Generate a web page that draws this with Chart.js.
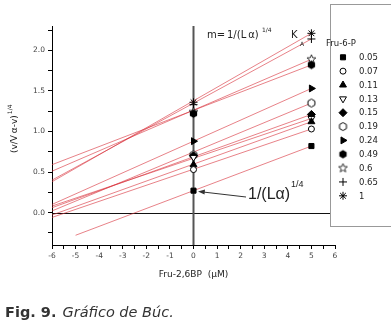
<!DOCTYPE html>
<html><head><meta charset="utf-8">
<script src="https://cdn.jsdelivr.net/npm/chart.js@4.4.1/dist/chart.umd.min.js"></script>
<style>
html,body{margin:0;padding:0;background:#fff;}
canvas{display:block;}
</style></head><body>
<canvas id="c" width="391" height="323"></canvas>
<script>
// ---- data ----
const fru6pLabels = ['0.05','0.07','0.11','0.13','0.15','0.19','0.24','0.49','0.6','0.65','1'];
const fru26bpPoints = [0, 5];
const valuesAt0 = [0.27,0.53,0.59,0.68,0.70,0.71,0.88,1.22,1.24,1.33,1.36];
const valuesAt5 = [0.82,1.03,1.12,1.16,1.21,1.35,1.53,1.82,1.89,2.14,2.21];
const fitStartX = [-5,-6,-6,-6,-6,-6,-6,-6,-6,-6,-6];
const fitStartY = [-0.28,-0.06,-0.03,0.08,0.06,0.02,0.10,0.59,0.51,0.40,0.38];
const fitEndX = 5;
const xTickLabels = ['-6','-5','-4','-3','-2','-1','0','1','2','3','4','5','6'];
const yTickLabels = ['0.0','0.5','1.0','1.5','2.0'];

// ---- custom marker glyphs ----
function glyph(draw){
  const c=document.createElement('canvas'); c.width=11; c.height=11;
  const g=c.getContext('2d'); g.translate(5.5,5.5); g.lineWidth=1; g.strokeStyle='#000'; g.fillStyle='#000';
  draw(g); return c;
}
function hexPath(g,r){ g.beginPath(); for(let k=0;k<6;k++){const a=-Math.PI/2+k*Math.PI/3; const px=r*Math.cos(a), py=r*Math.sin(a); k?g.lineTo(px,py):g.moveTo(px,py);} g.closePath(); }
const hexOpen = glyph(g=>{hexPath(g,4); g.fillStyle='#fff'; g.fill(); g.stroke();});
const hexFilled = glyph(g=>{hexPath(g,4.2); g.fill();});
const starOpen = glyph(g=>{g.beginPath(); for(let k=0;k<10;k++){const r=k%2?2:4.6; const a=-Math.PI/2+k*Math.PI/5; const px=r*Math.cos(a), py=r*Math.sin(a); k?g.lineTo(px,py):g.moveTo(px,py);} g.closePath(); g.fillStyle='#fff'; g.fill(); g.lineWidth=0.8; g.stroke();});

const markerStyles = [
  {s:'rect', r:3.6, fill:'#000', rot:0},
  {s:'circle', r:3, fill:'#fff', rot:0},
  {s:'triangle', r:4, fill:'#000', rot:0},
  {s:'triangle', r:4, fill:'#fff', rot:180},
  {s:'rectRot', r:4, fill:'#000', rot:0},
  {s:hexOpen, r:4, fill:'#fff', rot:0},
  {s:'triangle', r:4, fill:'#000', rot:90},
  {s:hexFilled, r:4, fill:'#000', rot:0},
  {s:starOpen, r:4, fill:'#fff', rot:0},
  {s:'cross', r:4, fill:'#000', rot:0},
  {s:'star', r:4, fill:'#000', rot:0}
];

const datasets = [];
fru6pLabels.forEach((lab,i)=>{
  datasets.push({
    label:'fit '+lab, type:'line', order:2,
    data:[{x:fitStartX[i], y:fitStartY[i]},{x:fitEndX, y:valuesAt5[i]}],
    borderColor:'rgba(215,45,55,0.75)', borderWidth:0.8, pointRadius:0, showLine:true, fill:false
  });
});
fru6pLabels.forEach((lab,i)=>{
  const m = markerStyles[i];
  datasets.push({
    label:lab, type:'scatter', order:1,
    data: fru26bpPoints.map((xv,k)=>({x:xv, y:k===0?valuesAt0[i]:valuesAt5[i]})),
    pointStyle:m.s, pointRadius:m.r, pointRotation:m.rot,
    pointBackgroundColor:m.fill, pointBorderColor:'#000', pointBorderWidth:1, showLine:false
  });
});

function fixTicks(values){ return function(scale){ scale.ticks = values.map(v=>({value:v})); }; }
const xTickVals=[]; for(let v=-6; v<=6.001; v+=0.5) xTickVals.push(Math.round(v*2)/2);
const yTickVals=[]; for(let v=-0.25; v<=2.2501; v+=0.25) yTickVals.push(Math.round(v*4)/4);

const deco = {
  id:'deco',
  beforeDatasetsDraw(chart){
    const {ctx, chartArea:a, scales:{x,y}} = chart;
    const x0 = x.getPixelForValue(0), y0 = Math.round(y.getPixelForValue(0))+0.5;
    ctx.save();
    ctx.strokeStyle='#111'; ctx.lineWidth=1;
    ctx.beginPath(); ctx.moveTo(a.left, y0); ctx.lineTo(331, y0); ctx.stroke();
    ctx.strokeStyle='#555'; ctx.lineWidth=2;
    ctx.beginPath(); ctx.moveTo(x0, a.top); ctx.lineTo(x0, a.bottom); ctx.stroke();
    ctx.restore();
  },
  afterDraw(chart){
    const {ctx, chartArea:a} = chart;
    ctx.save();
    ctx.fillStyle='#222'; ctx.textBaseline='alphabetic'; ctx.textAlign='left';
    // y title
    ctx.save(); ctx.translate(17,153); ctx.rotate(-Math.PI/2);
    ctx.font='9px "DejaVu Sans"'; const yt='(v/V\u2009\u03b1-v)'; ctx.fillText(yt,0,0);
    const w=ctx.measureText(yt).width; ctx.font='6px "DejaVu Sans"'; ctx.fillText('1/4',w+1,-5);
    ctx.restore();
    // x title
    ctx.font='9px "DejaVu Sans"'; ctx.textAlign='center';
    ctx.fillText('Fru-2,6BP  (\u00b5M)', (a.left+a.right)/2, 277);
    ctx.textAlign='left';
    // slope annotation
    ctx.font='10px "DejaVu Sans"';
    ctx.fillText('m=',207,38); ctx.fillText('1/(L\u2009\u03b1)',227,38);
    ctx.font='6px "DejaVu Sans"'; ctx.fillText('1/4',262,32);
    ctx.font='10px "DejaVu Sans"'; ctx.fillText('K',291,38);
    ctx.font='6px "DejaVu Sans"'; ctx.fillText('A',300,46);
    // intercept annotation + arrow
    ctx.font='16px "Liberation Sans"'; ctx.fillText('1/(L\u03b1)',248,199);
    ctx.font='9px "Liberation Sans"'; ctx.fillText('1/4',291,187);
    ctx.strokeStyle='#333'; ctx.lineWidth=1;
    ctx.beginPath(); ctx.moveTo(246,197); ctx.lineTo(203,192); ctx.stroke();
    ctx.beginPath(); ctx.moveTo(198,191.5); ctx.lineTo(205,189.5); ctx.lineTo(204.5,194.5); ctx.closePath(); ctx.fillStyle='#333'; ctx.fill();
    // legend box
    ctx.fillStyle='#fff'; ctx.fillRect(330,4,70,222);
    ctx.strokeStyle='#999'; ctx.lineWidth=1; ctx.strokeRect(330.5,4.5,70,222);
    ctx.fillStyle='#222'; ctx.font='8.5px "DejaVu Sans"';
    ctx.fillText('Fru-6-P',326,46);
    const ms = chart.data.datasets.filter(d=>d.type==='scatter');
    ms.forEach((d,i)=>{
      const yy = 57.3 + i*13.85;
      ctx.fillStyle=d.pointBackgroundColor; ctx.strokeStyle='#000'; ctx.lineWidth=1;
      if (Chart.helpers && Chart.helpers.drawPoint) {
        Chart.helpers.drawPoint(ctx,{pointStyle:d.pointStyle, rotation:d.pointRotation, radius:d.pointRadius, borderWidth:1},343,yy);
      }
      ctx.fillStyle='#222'; ctx.font='8.5px "DejaVu Sans"'; ctx.textBaseline='middle';
      ctx.fillText(d.label,359,yy+0.5);
      ctx.textBaseline='alphabetic';
    });
    // caption
    ctx.fillStyle='#333';
    ctx.font='bold 14.5px "DejaVu Sans"'; ctx.fillText('Fig. 9.',5,317);
    const cw = ctx.measureText('Fig. 9. ').width;
    ctx.font='italic 14.5px "DejaVu Sans"'; ctx.fillText('Gr\u00e1fico de B\u00fac.',5+cw+1,317);
    ctx.restore();
  }
};

new Chart(document.getElementById('c'), {
  type:'scatter',
  data:{datasets},
  options:{
    responsive:false, animation:false, devicePixelRatio:1,
    layout:{padding:{left:0,right:56,top:26,bottom:0}},
    plugins:{legend:{display:false}, tooltip:{enabled:false}},
    scales:{
      x:{type:'linear', min:-6, max:6,
        afterBuildTicks: fixTicks(xTickVals),
        afterFit(s){ s.height=78; },
        grid:{display:true, drawOnChartArea:false, tickLength:4, color:'#000', tickColor:'#000'},
        border:{display:true, color:'#000', width:1},
        ticks:{autoSkip:false, maxRotation:0, padding:3, color:'#444', font:{family:'DejaVu Sans', size:7.5},
          callback:(v)=>{ const idx = xTickLabels.indexOf(String(v)); return idx>=0 ? xTickLabels[idx] : ''; }}
      },
      y:{type:'linear', min:-0.4, max:2.3,
        afterBuildTicks: fixTicks(yTickVals),
        afterFit(s){ s.width=52; },
        grid:{display:true, drawOnChartArea:false, tickLength:4, color:'#000', tickColor:'#000'},
        border:{display:true, color:'#000', width:1},
        ticks:{autoSkip:false, padding:3, color:'#444', font:{family:'DejaVu Sans', size:7.5},
          callback:(v)=>{ const s=v.toFixed(1); return (Math.abs(v*2-Math.round(v*2))<1e-9 && yTickLabels.includes(s)) ? s : ''; }}
      }
    }
  },
  plugins:[deco]
});
</script>
</body></html>
